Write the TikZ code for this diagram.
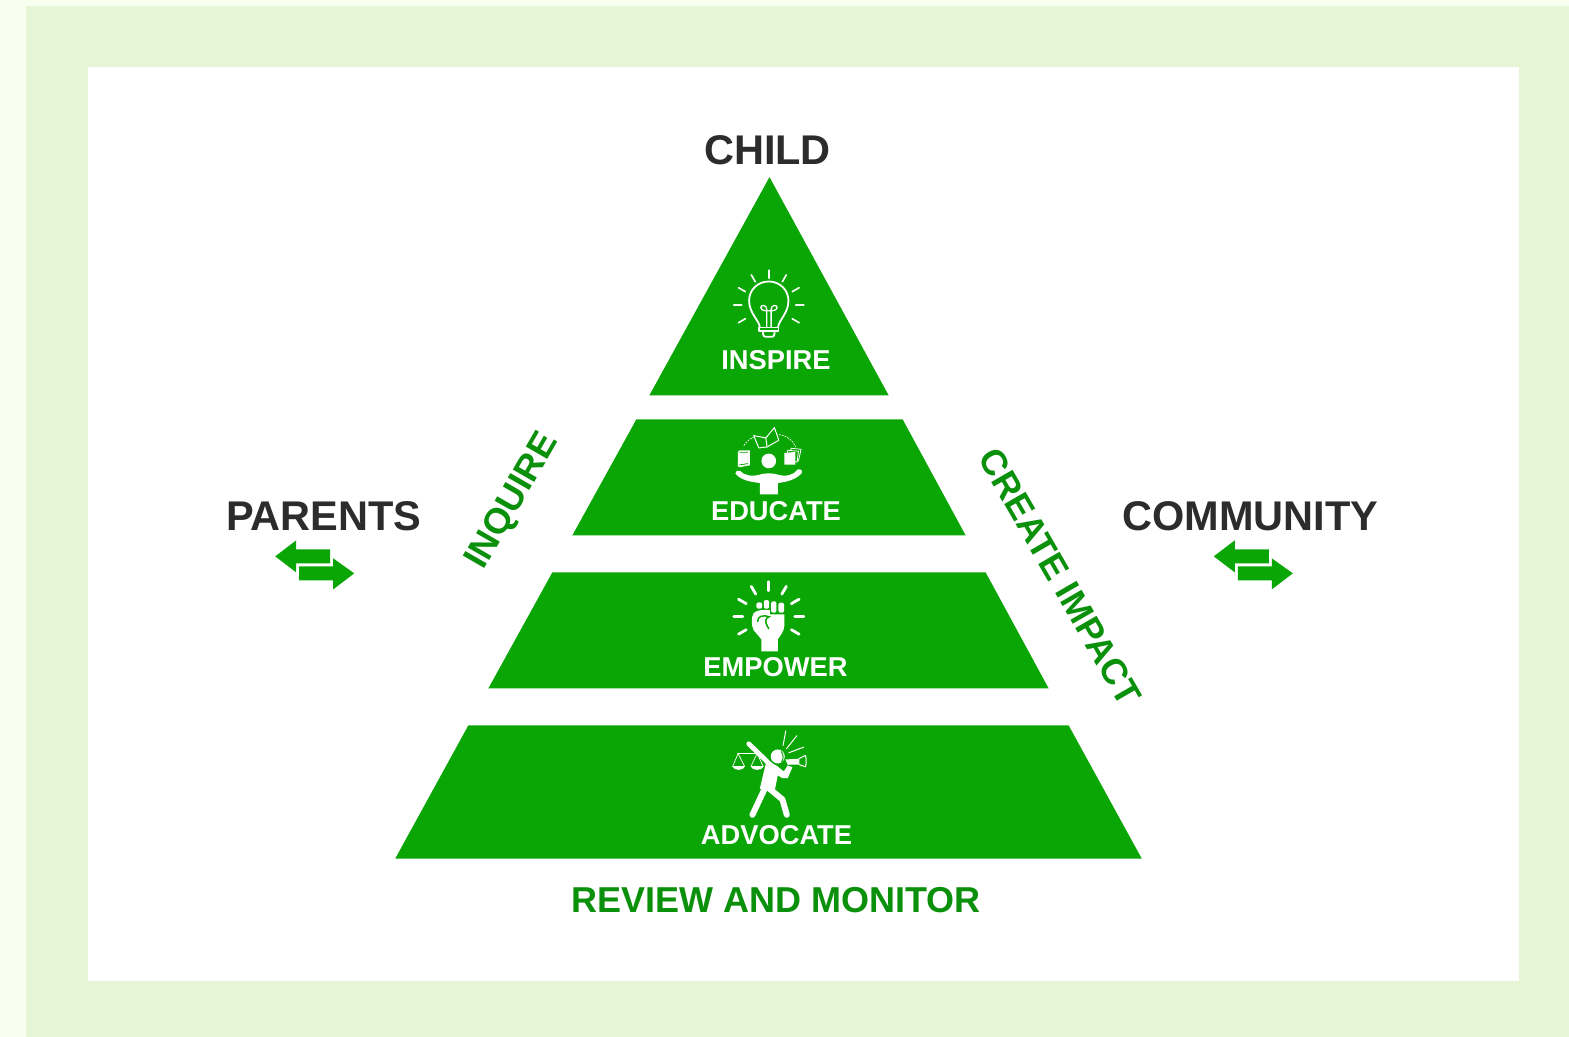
\documentclass[tikz,border=0pt]{standalone}
\usepackage{fontspec}
\setmainfont{Liberation Sans}
\definecolor{pagebg}{HTML}{F8FFF0}
\definecolor{band}{HTML}{E6F5D5}
\definecolor{pyr}{HTML}{0AA605}
\definecolor{gtext}{HTML}{0A900A}
\definecolor{dark}{HTML}{2C2C2C}
\tikzset{
  base/.style={inner sep=0pt,outer sep=0pt,anchor=base,font=\bfseries\fontsize{#1}{#1}\selectfont},
  lab/.style={base=27.3,text=white},
  stake/.style={base=41.5,text=dark},
  act/.style={base=36,text=gtext},
  tier/.style={fill=pyr,draw=none},
  arrowshape/.style={fill=pyr,draw=none},
  ink/.style={draw=white,fill=none,line cap=round,line join=round},
  solid ink/.style={fill=white,draw=none},
  thin dash/.style={draw=white,line width=.7pt,dash pattern=on 2pt off 1pt}
}
\begin{document}
\begin{tikzpicture}[x=1.0007pt,y=-1.0007pt]
\useasboundingbox (0,0) rectangle (1568,1036.3);
\fill[pagebg] (-2,-2) rectangle (1572,1040);
\fill[band] (26,6) rectangle (1572,1040);
\fill[white] (88,67) rectangle (1518,980);
% tiers
\fill[tier] (769,177) -- (888,395) -- (649,395) -- cycle;
\fill[tier] (636,419) -- (902,419) -- (965,535) -- (572,535) -- cycle;
\fill[tier] (552,572) -- (985,572) -- (1048,688) -- (488,688) -- cycle;
\fill[tier] (468,725) -- (1068,725) -- (1141,858) -- (395,858) -- cycle;
% labels
\node[stake] (child) at (767,164) {CHILD};
\node[stake] (parents) at (323.5,530) {PARENTS};
\node[stake] (community) at (1249.5,530) {COMMUNITY};
\node[lab] (inspire) at (775.5,369) {INSPIRE};
\node[lab] (educate) at (775.5,520) {EDUCATE};
\node[lab] (empower) at (775,676) {EMPOWER};
\node[lab] (advocate) at (776,844) {ADVOCATE};
\node[act] (review) at (775.5,912) {REVIEW AND MONITOR};
\node[act,anchor=center,rotate=60,font=\bfseries\fontsize{36}{36}\selectfont] (inquire) at (512.5,501) {INQUIRE};
\node[act,anchor=center,rotate=-60,font=\bfseries\fontsize{35.8}{35.8}\selectfont] (impact) at (1059.5,576.5) {CREATE IMPACT};
% exchange arrows
\foreach \dx in {0,938}{
\begin{scope}[shift={(\dx,0)}]
\fill[arrowshape] (275,556) -- (296,540) -- (296,549) -- (330,549) -- (330,563) -- (296,563) -- (296,572) -- cycle;
\fill[arrowshape] (354,573) -- (333,558) -- (333,566) -- (299,566) -- (299,580) -- (333,580) -- (333,589) -- cycle;
\end{scope}}
% bulb
\begin{scope}[shift={(768.3,305)}]
\foreach \a in {90,60,120,30,150,0,180,-30,210}
  \draw[ink,line width=1.6pt] (\a:27 and -27) -- (\a:35 and -35);
\end{scope}
\begin{scope}[shift={(700,250)},x=.3333pt,y=-.3333pt]
\draw[ink,line width=1.8pt] (178,232) .. controls (178,212) and (146,190) .. (146,152)
  .. controls (146,118) and (173,94) .. (205,94)
  .. controls (237,94) and (264,118) .. (264,152)
  .. controls (264,190) and (233,212) .. (233,232);
\draw[ink,line width=1.8pt] (176,232) -- (234,232) -- (234,243) -- (176,243) -- cycle;
\draw[ink,line width=1.8pt] (188,245) -- (188,252) .. controls (188,258) and (192,260) .. (196,260) -- (214,260) .. controls (218,260) and (222,258) .. (222,252) -- (222,245);
\draw[ink,line width=1.3pt] (199,232) -- (199,178) .. controls (199,163) and (181,163) .. (181,172) .. controls (181,182) and (199,182) .. (199,182) -- (212,182) .. controls (212,182) and (230,182) .. (230,172) .. controls (230,163) and (212,163) .. (212,178) -- (212,232);
\end{scope}
% educate
\begin{scope}[shift={(700,420)},x=.3333pt,y=-.3333pt]
\fill[solid ink] (205,122) circle (22);
\fill[solid ink] (178,222) -- (178,188) .. controls (155,186) and (120,180) .. (105,160)
  .. controls (104,152) and (112,148) .. (119,152) .. controls (130,165) and (155,170) .. (178,163)
  .. controls (190,158) and (220,158) .. (232,163) .. controls (255,170) and (280,165) .. (291,148)
  .. controls (300,145) and (307,150) .. (304,158) .. controls (290,176) and (260,186) .. (232,188) -- (232,222) -- cycle;
\fill[solid ink] (112,95) -- (118,90) -- (148,90) -- (148,135) -- (118,141) -- (112,138) -- cycle;
\draw[pyr,line width=.8pt] (117,96) -- (143,96) (117,134) -- (143,130);
\draw[white,line width=.8pt,fill=pyr] (272,84) -- (302,87) -- (294,122) -- (266,118) -- cycle;
\draw[white,line width=.8pt,fill=pyr] (262,90) -- (294,93) -- (290,125) -- (258,122) -- cycle;
\fill[solid ink] (252,98) -- (285,95) -- (285,133) -- (252,133) -- cycle;
\draw[ink,line width=1pt] (160,46) -- (196,53) -- (222,22) -- (235,60) -- (200,80) -- (175,83) -- cycle;
\draw[ink,line width=1pt] (196,53) -- (200,80);
\draw[thin dash] (130,76) .. controls (138,65) and (148,55) .. (160,50);
\draw[thin dash] (235,43) .. controls (258,45) and (278,60) .. (286,80);
\end{scope}
% empower
\begin{scope}[shift={(768.3,616.3)}]
\foreach \a in {90,60,120,30,150,0,180,-30,210}
  \draw[ink,line width=2.8pt] (\a:26 and -26) -- (\a:35 and -35);
\end{scope}
\begin{scope}[shift={(700,575)},x=.3333pt,y=-.3333pt]
\fill[solid ink,rounded corners=2pt] (168,81) rectangle (185,100);
\fill[solid ink,rounded corners=2pt] (190,74) rectangle (206,100);
\fill[solid ink,rounded corners=2pt] (212,78) rectangle (228,112);
\fill[solid ink,rounded corners=2pt] (234,82) rectangle (251,112);
\fill[solid ink] (183,228) -- (183,192) -- (160,165) .. controls (152,150) and (152,125) .. (160,113)
 .. controls (170,103) and (190,103) .. (208,104) -- (208,117) -- (228,117) -- (252,117) -- (252,150) .. controls (250,170) and (240,180) .. (232,192) -- (232,228) -- cycle;
\draw[pyr,line width=1.5pt,line cap=round] (172,138) .. controls (170,122) and (190,118) .. (206,124) .. controls (195,130) and (190,135) .. (205,160);
\end{scope}
% advocate
\begin{scope}[shift={(700,725)},x=.3333pt,y=-.3333pt]
\fill[solid ink] (232,93) circle (21);
\draw[pyr,line width=1pt] (242,78) .. controls (250,88) and (250,100) .. (243,110);
\draw[ink,line width=4.8pt] (145,55) -- (212,120);
\draw[ink,line width=6pt] (195,185) -- (156,268);
\draw[ink,line width=6pt] (205,188) -- (246,222) -- (259,268);
\fill[solid ink] (198,106) -- (228,120) -- (250,138) -- (262,120) -- (276,125) -- (262,158) -- (246,158) -- (232,150) -- (222,200) -- (178,190) -- cycle;
\draw[ink,line width=.9pt] (112,84) -- (180,84);
\draw[ink,line width=.7pt] (113,84) -- (97,122) (113,84) -- (132,122) (170,84) -- (152,122) (170,84) -- (188,122);
\fill[solid ink] (95,122) .. controls (100,137) and (130,137) .. (134,122) -- cycle;
\fill[solid ink] (150,122) .. controls (155,137) and (185,137) .. (190,122) -- cycle;
\draw[ink,line width=1pt] (248,60) -- (256,16) (258,70) -- (289,31) (265,82) -- (310,65);
\fill[solid ink] (255,102) -- (295,100) -- (295,117) -- (262,118) -- cycle;
\draw[ink,line width=1pt,fill=pyr] (295,100) -- (315,90) .. controls (318,100) and (318,115) .. (315,124) -- (295,117) -- cycle;
\end{scope}
\end{tikzpicture}
\end{document}
